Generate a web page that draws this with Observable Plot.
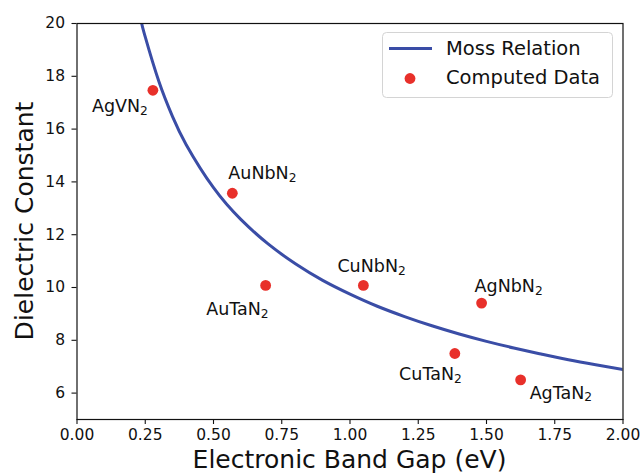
<!DOCTYPE html>
<html>
<head>
<meta charset="utf-8">
<script src="https://cdn.jsdelivr.net/npm/d3@7"></script>
<script src="https://cdn.jsdelivr.net/npm/@observablehq/plot@0.6"></script>
<style>
  html, body { margin: 0; padding: 0; background: #fff; }
  #chart svg { display: block; }
</style>
</head>
<body>
<div id="chart"></div>
<script>
// ---- data ----
const compounds = ["AgVN₂", "AuNbN₂", "AuTaN₂", "CuNbN₂", "AgNbN₂", "CuTaN₂", "AgTaN₂"];
const bandGap   = [0.278, 0.569, 0.691, 1.049, 1.482, 1.384, 1.625];
const dielectric = [17.47, 13.57, 10.08, 10.08, 9.41, 7.50, 6.50];

// Moss relation curve
const mossGap = [0.237, 0.25, 0.30, 0.35, 0.40, 0.50, 0.60, 0.70, 0.80, 0.90, 1.00, 1.10, 1.20, 1.30, 1.40, 1.50, 1.60, 1.70, 1.80, 1.90, 2.00];
const mossEps = [20.0, 19.49, 17.8, 16.47, 15.41, 13.78, 12.58, 11.65, 10.90, 10.27, 9.75, 9.29, 8.90, 8.55, 8.24, 7.96, 7.71, 7.48, 7.26, 7.07, 6.89];

const xTicks = [0, 0.25, 0.5, 0.75, 1.0, 1.25, 1.5, 1.75, 2.0];
const yTicks = [6, 8, 10, 12, 14, 16, 18, 20];

const xLabel = "Electronic Band Gap (eV)";
const yLabel = "Dielectric Constant";
const legendLabels = ["Moss Relation", "Computed Data"];

// ---- styling / placement (not data) ----
const BLUE = "#3a4da6";
const RED = "#e8302a";
const FONT = "DejaVu Sans";
const labelPlacement = {
  "AgVN₂":  {anchor: "end",   dx: -5, dy: 16.5},
  "AuNbN₂": {anchor: "start", dx: -4, dy: -19.5},
  "AuTaN₂": {anchor: "end",   dx: 3,  dy: 24},
  "CuNbN₂": {anchor: "start", dx: -26, dy: -19},
  "AgNbN₂": {anchor: "start", dx: -7, dy: -16.5},
  "CuTaN₂": {anchor: "end",   dx: 7,  dy: 21},
  "AgTaN₂": {anchor: "start", dx: 9,  dy: 13}
};

const points = compounds.map((name, i) => ({name, gap: bandGap[i], eps: dielectric[i]}));
const moss = mossGap.map((g, i) => ({gap: g, eps: mossEps[i]}));

const W = 641, H = 474;
const mL = 76.5, mR = 18.5, mT = 23, mB = 55;

const labelMarks = points.map(p => {
  const pl = labelPlacement[p.name];
  return Plot.text([p], {
    x: "gap", y: "eps", text: "name",
    textAnchor: pl.anchor, dx: pl.dx, dy: pl.dy,
    fontSize: 17.5, fill: "#111"
  });
});

const chart = Plot.plot({
  width: W, height: H,
  marginLeft: mL, marginRight: mR, marginTop: mT, marginBottom: mB,
  style: {fontFamily: FONT, fontSize: "15.5px", color: "#111", background: "#fff", overflow: "visible"},
  x: {domain: [0, 2]},
  y: {domain: [5, 20]},
  marks: [
    Plot.axisX({ticks: xTicks, tickFormat: d => d.toFixed(2), tickSize: 5, tickPadding: 4, label: null, stroke: "#111", strokeWidth: 1.1}),
    Plot.axisY({ticks: yTicks, tickFormat: d => String(d), tickSize: 5, tickPadding: 7, label: null, stroke: "#111", strokeWidth: 1.1}),
    Plot.line(moss, {x: "gap", y: "eps", stroke: BLUE, strokeWidth: 3, curve: "natural", clip: true}),
    Plot.dot(points, {x: "gap", y: "eps", r: 5.4, fill: RED, stroke: "none"}),
    ...labelMarks,
    Plot.frame({stroke: "#111", strokeWidth: 1.2})
  ]
});

document.getElementById("chart").appendChild(chart);

const svg = d3.select(chart);

// render the trailing "₂" of compound labels as a mathtext-like subscript
svg.selectAll("text").each(function() {
  const t = this.textContent;
  if (this.childElementCount === 0 && t.endsWith("₂")) {
    const base = t.slice(0, -1);
    this.textContent = base;
    d3.select(this).append("tspan")
      .attr("dy", "0.22em").attr("font-size", "70%")
      .text("2");
  }
});

// axis titles
svg.append("text")
  .attr("x", (mL + W - mR) / 2).attr("y", 468)
  .attr("text-anchor", "middle")
  .attr("font-family", FONT).attr("font-size", 25).attr("fill", "#111")
  .text(xLabel);
svg.append("text")
  .attr("transform", `translate(33,${(mT + H - mB) / 2}) rotate(-90)`)
  .attr("text-anchor", "middle")
  .attr("font-family", FONT).attr("font-size", 25).attr("fill", "#111")
  .text(yLabel);

// legend
const lg = svg.append("g");
lg.append("rect")
  .attr("x", 382.5).attr("y", 32.5).attr("width", 230).attr("height", 65)
  .attr("rx", 4).attr("fill", "#fff").attr("fill-opacity", 0.85)
  .attr("stroke", "#d4d4d4").attr("stroke-width", 1);
lg.append("line")
  .attr("x1", 389).attr("x2", 432).attr("y1", 48.5).attr("y2", 48.5)
  .attr("stroke", BLUE).attr("stroke-width", 3);
lg.append("circle")
  .attr("cx", 410).attr("cy", 78.5).attr("r", 5.4).attr("fill", RED);
lg.selectAll("text.lg").data(legendLabels).join("text")
  .attr("class", "lg")
  .attr("x", 446).attr("y", (d, i) => 55 + i * 29)
  .attr("text-anchor", "start")
  .attr("font-family", FONT).attr("font-size", 19.5).attr("fill", "#111")
  .text(d => d);
</script>
</body>
</html>
